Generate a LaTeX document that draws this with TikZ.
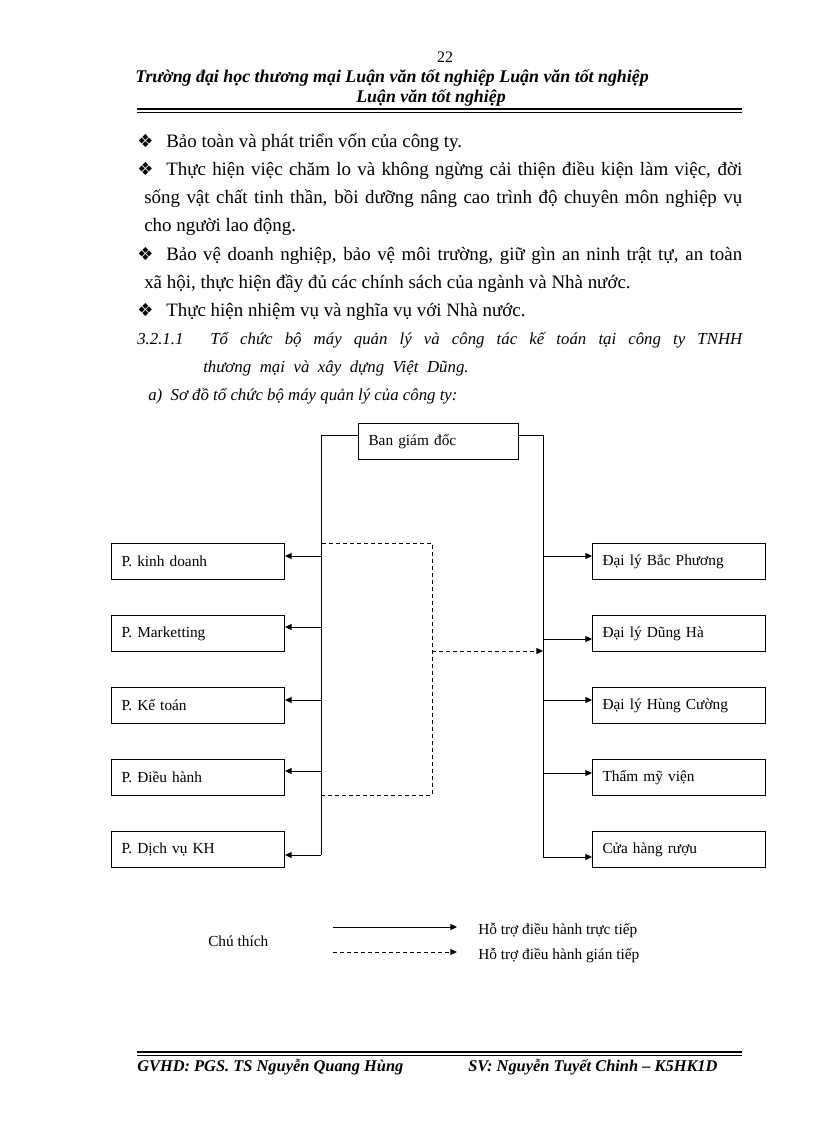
\documentclass[tikz,border=0pt]{standalone}
\usepackage{fontspec}
\setmainfont{Liberation Serif}
\newfontfamily\dingfont{DejaVu Sans}
\usetikzlibrary{arrows.meta}

\newcommand{\bodyfont}{\fontsize{14.2}{17}\selectfont}
\newcommand{\itfont}{\fontsize{12.6}{15}\selectfont\itshape}
\newcommand{\chartfont}{\fontsize{11.5}{14}\selectfont}
\newcommand{\headfont}{\fontsize{13.4}{16}\selectfont\bfseries\itshape}
\newcommand{\footfont}{\fontsize{12.3}{15}\selectfont\bfseries\itshape}
\newcommand{\bul}{{\dingfont\fontsize{13.5}{15}\selectfont ❖}}

\tikzset{
  txt/.style={anchor=base west, inner sep=0pt, font=\bodyfont},
  unitbox/.style={draw, line width=0.75pt, anchor=north west,
    minimum width=129.75pt, minimum height=27pt, text width=114.75pt,
    inner xsep=7.5pt, align=left, font=\chartfont},
  trunk/.style={line width=0.75pt},
  link/.style={line width=0.75pt, -{Triangle[length=5pt,width=4.5pt]}},
  indirect/.style={line width=0.75pt, dash pattern=on 3pt off 2.25pt},
}

\begin{document}
\begin{tikzpicture}[x=0.75pt, y=-0.75pt]
    \useasboundingbox (0,0) rectangle (816,1123);
    % header
    \node[txt, anchor=base, font=\fontsize{12}{14}\selectfont] (pg) at (445,63) {22};
    \node[txt, font=\headfont] (h1) at (135,83)
      {Trường đại học thương mại Luận văn tốt nghiệp Luận văn tốt nghiệp};
    \node[txt, anchor=base, font=\headfont] (h2) at (431,103) {Luận văn tốt nghiệp};
    \draw[line width=1pt] (137,109) -- (742,109);
    \draw[line width=0.6pt] (137,112.5) -- (742,112.5);

    % body
    \node[txt] (b1) at (137,148) {\bul};
    \node[txt] (t1) at (166,148) {Bảo toàn và phát triển vốn của công ty.};
    \node[txt] (b2) at (137,176) {\bul};
    \node[txt] (t2) at (166,176) {\makebox[432pt][s]{Thực hiện việc chăm lo và không ngừng cải thiện điều kiện làm việc, đời}};
    \node[txt] (t3) at (144,204) {\makebox[448.5pt][s]{sống vật chất tinh thần, bồi dưỡng nâng cao trình độ chuyên môn nghiệp vụ}};
    \node[txt] (t4) at (144,232) {cho người lao động.};
    \node[txt] (b3) at (137,260) {\bul};
    \node[txt] (t5) at (166,260) {\makebox[432pt][s]{Bảo vệ doanh nghiệp, bảo vệ môi trường, giữ gìn an ninh trật tự, an toàn}};
    \node[txt] (t6) at (144,288) {xã hội, thực hiện đầy đủ các chính sách của ngành và Nhà nước.};
    \node[txt] (b4) at (137,316) {\bul};
    \node[txt] (t7) at (166,316) {Thực hiện nhiệm vụ và nghĩa vụ với Nhà nước.};
    \node[txt, font=\itfont] (s1) at (137,344) {3.2.1.1};
    \node[txt, font=\itfont] (s2) at (210,344) {\makebox[399pt][s]{Tổ chức bộ máy quản lý và công tác kế toán tại công ty TNHH}};
    \node[txt, font=\itfont] (s3) at (203,372) {\makebox[199pt][s]{thương mại và xây dựng Việt Dũng.}};
    \node[txt, font=\itfont] (s4) at (148,400) {a)\ \ Sơ đồ tổ chức bộ máy quản lý của công ty:};

    % chart
    \node[unitbox, minimum width=120pt, text width=105pt] (ban) at (358,423) {Ban giám đốc};
    \node[unitbox] (p1) at (111,543) {P. kinh doanh};
    \node[unitbox] (p2) at (111,615) {P. Marketting};
    \node[unitbox] (p3) at (111,687) {P. Kế toán};
    \node[unitbox] (p4) at (111,759) {P. Điều hành};
    \node[unitbox] (p5) at (111,831) {P. Dịch vụ KH};
    \node[unitbox] (d1) at (592,543) {Đại lý Bắc Phương};
    \node[unitbox] (d2) at (592,615) {Đại lý Dũng Hà};
    \node[unitbox] (d3) at (592,687) {Đại lý Hùng Cường};
    \node[unitbox] (d4) at (592,759) {Thẩm mỹ viện};
    \node[unitbox] (d5) at (592,831) {Cửa hàng rượu};

    \coordinate (lt) at (321,435);
    \coordinate (rt) at (543,435);
    \coordinate (l1) at (321,556);
    \coordinate (l2) at (321,627);
    \coordinate (l3) at (321,700);
    \coordinate (l4) at (321,771);
    \coordinate (l5) at (321,855);
    \coordinate (r1) at (543,556);
    \coordinate (r2) at (543,639);
    \coordinate (r3) at (543,700);
    \coordinate (r4) at (543,773);
    \coordinate (r5) at (543,857);

    \draw[trunk] (ban.west |- lt) -- (lt) -- (l5);
    \draw[trunk] (ban.east |- rt) -- (rt) -- (r5);
    \draw[link] (l1) -- (l1 -| p1.east);
    \draw[link] (l2) -- (l2 -| p2.east);
    \draw[link] (l3) -- (l3 -| p3.east);
    \draw[link] (l4) -- (l4 -| p4.east);
    \draw[link] (l5) -- (l5 -| p5.east);
    \draw[link] (r1) -- (r1 -| d1.west);
    \draw[link] (r2) -- (r2 -| d2.west);
    \draw[link] (r3) -- (r3 -| d3.west);
    \draw[link] (r4) -- (r4 -| d4.west);
    \draw[link] (r5) -- (r5 -| d5.west);

    % indirect support
    \coordinate (k1) at (322,543);
    \coordinate (k2) at (432,543);
    \coordinate (k3) at (432,795);
    \coordinate (k4) at (322,795);
    \coordinate (km) at (432,651);
    \draw[indirect] (k1) -- (k2) -- (k3) -- (k4);
    \draw[indirect, -{Triangle[length=5pt,width=4.5pt]}] (km) -- (km -| rt);

    % legend
    \node[txt, font=\chartfont] (key) at (208,946) {Chú thích};
    \coordinate (e1) at (333,927);
    \coordinate (e2) at (457,927);
    \coordinate (e3) at (333,952);
    \coordinate (e4) at (457,952);
    \draw[link] (e1) -- (e2);
    \draw[indirect, -{Triangle[length=5pt,width=4.5pt]}] (e3) -- (e4);
    \node[txt, font=\chartfont] (k5) at (478,934) {Hỗ trợ điều hành trực tiếp};
    \node[txt, font=\chartfont] (k6) at (478,959) {Hỗ trợ điều hành gián tiếp};

    % footer
    \draw[line width=1pt] (137,1052) -- (742,1052);
    \draw[line width=0.6pt] (137,1055.5) -- (742,1055.5);
    \node[txt, font=\footfont] (f1) at (137,1071) {GVHD: PGS. TS Nguyễn Quang Hùng};
    \node[txt, font=\footfont] (f2) at (468,1071) {SV: Nguyễn Tuyết Chinh – K5HK1D};
\end{tikzpicture}
\end{document}
